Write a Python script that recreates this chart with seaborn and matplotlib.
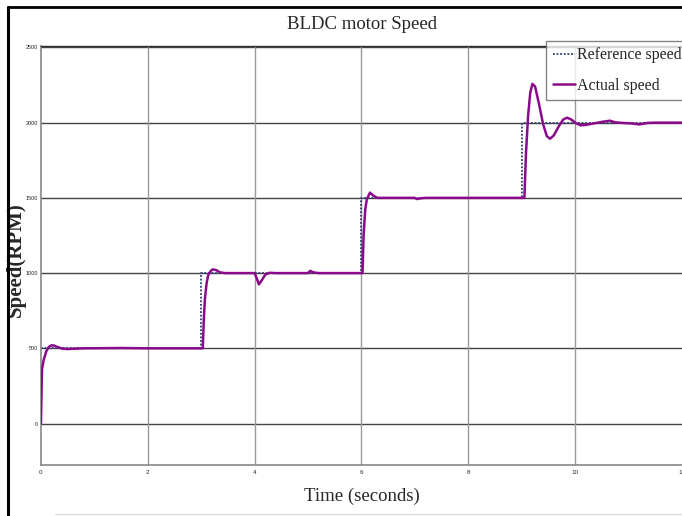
import numpy as np
import pandas as pd
import matplotlib
matplotlib.use("Agg")
import matplotlib.pyplot as plt
from matplotlib.lines import Line2D
import seaborn as sns

# Reference speed (step command)
ref_t = [0.0, 3.0, 6.0, 9.0, 12.0]
ref_v = [500, 1000, 1500, 2000, 2000]

# Actual speed
act_t = [0.0, 0.02, 0.05, 0.1, 0.15, 0.2, 0.25, 0.3, 0.4, 0.5, 0.6, 0.8, 1.5, 2.0, 3.0,
         3.03, 3.05, 3.07, 3.1, 3.13, 3.18, 3.22, 3.28, 3.35, 3.45, 3.6, 4.0,
         4.04, 4.08, 4.13, 4.2, 4.28, 4.4, 5.0, 5.04, 5.1, 5.2, 6.0,
         6.02, 6.04, 6.07, 6.1, 6.16, 6.22, 6.3, 7.0, 7.04, 7.1, 7.2, 9.0,
         9.05, 9.08, 9.12, 9.16, 9.2, 9.25, 9.32, 9.4, 9.47, 9.53, 9.6, 9.7, 9.78,
         9.85, 9.93, 10.0, 10.1, 10.2, 10.35, 10.5, 10.65, 10.75, 10.9, 11.05, 11.2,
         11.35, 11.5, 12.0]
act_v = [0, 360, 420, 480, 510, 520, 518, 510, 498, 495, 497, 500, 502, 500, 500,
         500, 700, 830, 930, 985, 1015, 1025, 1020, 1005, 1000, 1000, 1000,
         965, 925, 950, 990, 1002, 1000, 1000, 1015, 1005, 1000, 1000,
         1000, 1250, 1420, 1490, 1535, 1515, 1500, 1500, 1492, 1497, 1500, 1500,
         1500, 1800, 2050, 2200, 2258, 2240, 2130, 1990, 1910, 1893, 1915, 1980, 2022,
         2033, 2020, 2000, 1982, 1985, 1995, 2005, 2013, 2002, 1998, 1995, 1988,
         1998, 2000, 2000]

x_ticks = [0, 2, 4, 6, 8, 10, 12]
y_ticks = [0, 500, 1000, 1500, 2000, 2500]

sns.set_style("white")
plt.rcParams["font.family"] = ["Liberation Serif", "DejaVu Serif"]

fig = plt.figure(figsize=(6.82, 5.16), dpi=100)
ax = fig.add_axes([0.060, 0.099, 0.94, 0.812])

ref_df = pd.DataFrame({"t": ref_t, "v": ref_v})
act_df = pd.DataFrame({"t": act_t, "v": act_v})

sns.lineplot(data=ref_df, x="t", y="v", ax=ax, color="#2f3a6e", lw=1.3,
             linestyle=(0, (1, 1)), drawstyle="steps-post", estimator=None,
             label="Reference speed", zorder=2)
sns.lineplot(data=act_df, x="t", y="v", ax=ax, color="#8b0a8b", lw=1.8,
             estimator=None, label="Actual speed", zorder=3)

ax.set_xlim(0, 12)
ax.set_ylim(-275, 2510)
ax.set_xticks(x_ticks)
ax.set_yticks(y_ticks)
ax.set_xticklabels([str(v) for v in x_ticks], fontsize=4.5,
                   family=["Liberation Sans Narrow", "Liberation Sans"])
ax.set_yticklabels([str(v) for v in y_ticks], fontsize=4,
                   family=["Liberation Sans Narrow", "Liberation Sans"])
ax.tick_params(axis="x", length=0, pad=4)
ax.tick_params(axis="y", length=0, pad=2)

for v in y_ticks:
    ax.axhline(v, color="#444444", lw=1.0, zorder=1)
for v in [2, 4, 6, 8, 10]:
    ax.axvline(v, color="#9a9a9a", lw=1.0, zorder=1)

for s in ["left", "bottom"]:
    ax.spines[s].set_color("#888888")
    ax.spines[s].set_linewidth(1.2)
ax.spines["right"].set_visible(False)
ax.spines["top"].set_color("#333333")
ax.spines["top"].set_linewidth(1.0)

ax.set_xlabel("Time (seconds)", fontsize=13.5)
ax.xaxis.set_label_coords(0.50, -0.055)
ax.set_ylabel("Speed(RPM)", fontsize=15, fontweight="bold")
ax.yaxis.set_label_coords(-0.024, 0.49)
fig.text(0.531, 0.953, "BLDC motor Speed", ha="center", va="center", fontsize=13.5)

leg = ax.legend(loc="upper right", bbox_to_anchor=(1.01, 1.012), fontsize=11.5,
                frameon=True, fancybox=False, handlelength=1.4, handletextpad=0.15,
                borderpad=0.4, labelspacing=0.9, borderaxespad=0.0)
leg.get_frame().set_edgecolor("#666666")
leg.get_frame().set_linewidth(1.0)

# outer frame of the picture
fig.add_artist(Line2D([0.012, 0.012], [0.0, 0.986], color="black", lw=2.2,
                      transform=fig.transFigure))
fig.add_artist(Line2D([0.012, 1.0], [0.986, 0.986], color="black", lw=2.0,
                      transform=fig.transFigure))
fig.add_artist(Line2D([0.08, 1.0], [0.004, 0.004], color="#dddddd", lw=1.0,
                      transform=fig.transFigure))

fig.savefig("out.png", dpi=100)
